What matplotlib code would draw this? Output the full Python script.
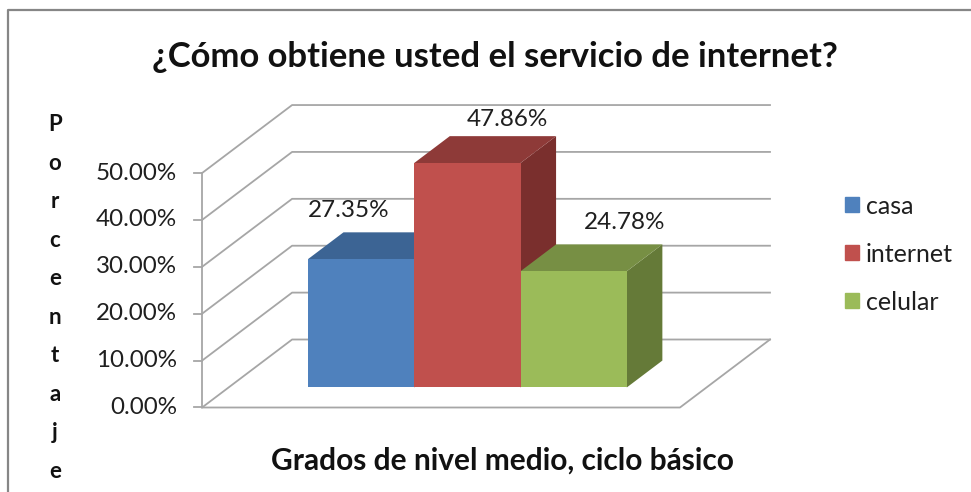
import matplotlib
matplotlib.use("Agg")
import matplotlib.pyplot as plt
import matplotlib.patches as mpatches
from matplotlib.lines import Line2D

plt.rcParams["font.family"] = ["Lato", "DejaVu Sans"]

categories = ["casa", "internet", "celular"]
values = [27.35, 47.86, 24.78]
value_labels = ["27.35%", "47.86%", "24.78%"]
y_ticks = [0, 10, 20, 30, 40, 50]
y_tick_labels = ["0.00%", "10.00%", "20.00%", "30.00%", "40.00%", "50.00%"]
y_title = "Porcentaje"
x_title = "Grados de nivel medio, ciclo básico"
chart_title = "¿Cómo obtiene usted el servicio de internet?"

front_colors = ["#4F81BD", "#C0504D", "#9BBB59"]
top_colors = ["#3C6494", "#8E3A38", "#778F44"]
side_colors = ["#355A84", "#7A2F2D", "#657A38"]
grid_color = "#A6A6A6"
text_color = "#1F1F1F"

# 3d look: depth 0..1 shifts points right and up
depth_x = 0.847
depth_y = 14.5
wall_left = -1.246
wall_right = 3.25
bar_d0 = 0.295
bar_d1 = 0.69


def proj(x, v, d=0.0):
    return x + d * depth_x, v + d * depth_y


fig = plt.figure(figsize=(9.71, 4.92), dpi=100)
ax = fig.add_axes([0, 0, 1, 1])
ax.set_xlim(-3.147, 5.988)
ax.set_ylim(-18.02, 86.9)
ax.axis("off")

# walls and floor
for t in y_ticks:
    xs, ys = zip(proj(wall_left, t), proj(wall_left, t, 1), proj(wall_right, t, 1))
    ax.plot(xs, ys, color=grid_color, lw=1.3, zorder=1)
xs, ys = zip(proj(wall_left, 0), proj(wall_right, 0), proj(wall_right, 0, 1))
ax.plot(xs, ys, color=grid_color, lw=1.3, zorder=1)
ax.plot([wall_left, wall_left], [y_ticks[0], y_ticks[-1]], color=grid_color, lw=1.3, zorder=1)

for t, lab in zip(y_ticks, y_tick_labels):
    ax.plot([wall_left - 0.075, wall_left], [t, t], color=grid_color, lw=1.3, zorder=1)
    ax.annotate(lab, (wall_left, t), xytext=(-18, 0), textcoords="offset points",
                ha="right", va="center", fontsize=17.4, color=text_color)

# bars
label_offsets = [(-9, 35), (29, 31), (37, 35)]
for i, v in enumerate(values):
    x0, x1 = i - 0.5, i + 0.5
    front = [proj(x0, 0, bar_d0), proj(x1, 0, bar_d0), proj(x1, v, bar_d0), proj(x0, v, bar_d0)]
    top = [proj(x0, v, bar_d0), proj(x1, v, bar_d0), proj(x1, v, bar_d1), proj(x0, v, bar_d1)]
    side = [proj(x1, 0, bar_d0), proj(x1, 0, bar_d1), proj(x1, v, bar_d1), proj(x1, v, bar_d0)]
    ax.add_patch(mpatches.Polygon(side, closed=True, fc=side_colors[i], ec="none", zorder=2 + i))
    ax.add_patch(mpatches.Polygon(top, closed=True, fc=top_colors[i], ec="none", zorder=2 + i))
    ax.add_patch(mpatches.Polygon(front, closed=True, fc=front_colors[i], ec="none", zorder=2 + i))
    ax.annotate(value_labels[i], proj(i, v, bar_d0), xytext=label_offsets[i],
                textcoords="offset points", ha="center", va="center",
                fontsize=17.5, color=text_color, zorder=10)

# chart frame, only left and top show in the crop
fig.add_artist(Line2D([8 / 971, 8 / 971, 1], [0, 1 - 10 / 492, 1 - 10 / 492],
                      color="#868686", lw=1.6))

fig.text(495 / 971, 1 - 57 / 492, chart_title, ha="center", va="center",
         fontsize=24.9, fontweight="bold", color="#111111")
fig.text(502 / 971, 1 - 461 / 492, x_title, ha="center", va="center",
         fontsize=21.5, fontweight="bold", color="#111111")
fig.text(55 / 971, 1 - 298 / 492, "\n".join(y_title), ha="center", va="center",
         fontsize=16, fontweight="bold", color="#111111", linespacing=2.03)

handles = [mpatches.Patch(color=c, label=n) for c, n in zip(front_colors, categories)]
leg = ax.legend(handles=handles, loc="center left", bbox_to_anchor=(845 / 971, 1 - 254 / 492),
                frameon=False, fontsize=18, handlelength=0.56, handleheight=0.56,
                handletextpad=0.28, labelspacing=1.0, borderpad=0, borderaxespad=0)
for txt in leg.get_texts():
    txt.set_color(text_color)

fig.savefig("out.png", dpi=100)
